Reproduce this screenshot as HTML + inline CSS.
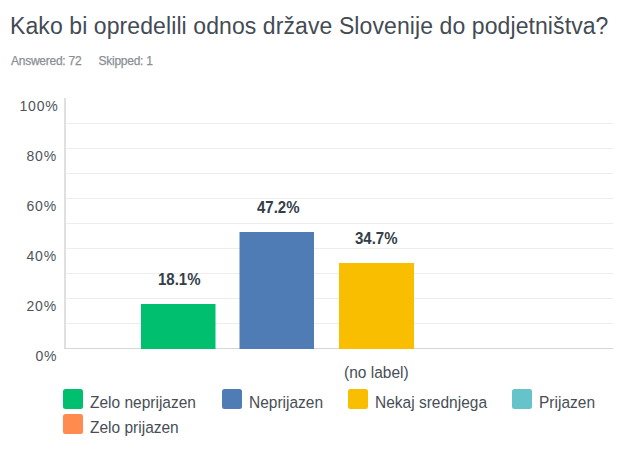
<!DOCTYPE html>
<html><head><meta charset="utf-8">
<style>
html,body{margin:0;padding:0;background:#fff;width:620px;height:463px;overflow:hidden;position:relative;font-family:"Liberation Sans",sans-serif;}
.a{position:absolute;white-space:nowrap;line-height:1;}
#title{left:10px;top:15px;font-size:23px;color:#434b55;letter-spacing:0.09px;}
.meta{top:55px;font-size:12px;color:#8a8f94;letter-spacing:-0.25px;-webkit-text-stroke:0.25px #8a8f94;}
.yl{font-size:14px;color:#4d545b;letter-spacing:0.8px;}
.bl{font-size:15px;font-weight:bold;color:#333e48;transform:scaleY(1.1);transform-origin:0 0;}
.lg{font-size:15.5px;color:#474e56;letter-spacing:0px;transform:scaleY(1.1);transform-origin:0 0;}
.sw{position:absolute;width:20px;height:20px;border-radius:2.5px;}
</style></head><body>
<div class="a" id="title">Kako bi opredelili odnos države Slovenije do podjetništva?</div>
<div class="a meta" id="m1" style="left:11px">Answered: 72</div>
<div class="a meta" id="m2" style="left:98.5px">Skipped: 1</div>

<div class="a yl" id="y100" style="left:19.5px;top:98.5px">100%</div>
<div class="a yl" id="y80" style="left:26.5px;top:148.5px">80%</div>
<div class="a yl" id="y60" style="left:26.5px;top:198.5px">60%</div>
<div class="a yl" id="y40" style="left:26.5px;top:248.5px">40%</div>
<div class="a yl" id="y20" style="left:26.5px;top:298.5px">20%</div>
<div class="a yl" id="y0" style="left:35.5px;top:348.5px">0%</div>

<svg class="a" style="left:0;top:0" width="620" height="463" viewBox="0 0 620 463">
<g fill="#ededed">
<rect x="66" y="123" width="547" height="1"/><rect x="66" y="148" width="547" height="1"/><rect x="66" y="173" width="547" height="1"/>
<rect x="66" y="198" width="547" height="1"/><rect x="66" y="223" width="547" height="1"/><rect x="66" y="248" width="547" height="1"/>
<rect x="66" y="273" width="547" height="1"/><rect x="66" y="298" width="547" height="1"/><rect x="66" y="323" width="547" height="1"/>
</g>
<rect x="64" y="98" width="2" height="251" fill="#e0e0e0"/>
<rect x="64" y="348" width="549" height="1" fill="#d6d6d6"/>
<rect x="141" y="304" width="74.5" height="45" fill="#00bf6f"/>
<rect x="239.5" y="232" width="74.5" height="117" fill="#507cb6"/>
<rect x="339" y="263" width="75" height="86" fill="#f9be00"/>
</svg>

<div class="a bl" id="b1" style="left:158px;top:271px">18.1%</div>
<div class="a bl" id="b2" style="left:257px;top:199px">47.2%</div>
<div class="a bl" id="b3" style="left:355px;top:230px">34.7%</div>

<div class="a lg" id="nolabel" style="left:344px;top:364px">(no label)</div>

<div class="sw" style="left:63px;top:389px;background:#00bf6f"></div>
<div class="a lg" id="l1" style="left:90px;top:394px">Zelo neprijazen</div>
<div class="sw" style="left:222px;top:389px;background:#507cb6"></div>
<div class="a lg" id="l2" style="left:249px;top:394px">Neprijazen</div>
<div class="sw" style="left:348px;top:389px;background:#f9be00"></div>
<div class="a lg" id="l3" style="left:375px;top:394px">Nekaj srednjega</div>
<div class="sw" style="left:512px;top:389px;background:#66c3c9"></div>
<div class="a lg" id="l4" style="left:539px;top:394px">Prijazen</div>
<div class="sw" style="left:63px;top:414px;background:#ff8b4f"></div>
<div class="a lg" id="l5" style="left:90px;top:419px">Zelo prijazen</div>
</body></html>
